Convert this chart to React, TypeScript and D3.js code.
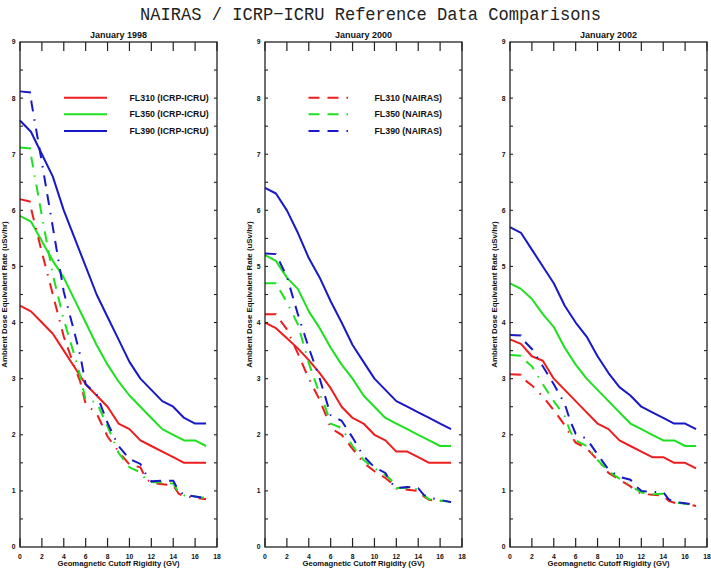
import React from "react";
import * as d3 from "d3";

// ---- data ----
const rigidityGV = [0, 1, 2, 3, 4, 5, 6, 7, 8, 9, 10, 11, 12, 13, 14, 15, 16, 17];
const nairasGV = [0, 1, 1.05, 2, 3, 4, 5, 5.5, 6, 7, 8, 9, 10, 11, 11.5, 12, 13, 14, 14.5, 15, 16, 17];

const panelTitles = ["January 1998", "January 2000", "January 2002"];
const seriesNames = ["FL310", "FL350", "FL390"];

// ICRP-ICRU reference (solid)
const icrp1998FL310 = [4.3, 4.2, 4.0, 3.8, 3.5, 3.2, 2.9, 2.7, 2.5, 2.2, 2.1, 1.9, 1.8, 1.7, 1.6, 1.5, 1.5, 1.5];
const icrp1998FL350 = [5.9, 5.8, 5.45, 5.1, 4.8, 4.4, 4.0, 3.6, 3.25, 2.95, 2.7, 2.5, 2.3, 2.1, 2.0, 1.9, 1.9, 1.8];
const icrp1998FL390 = [7.6, 7.4, 7.0, 6.6, 6.0, 5.5, 5.0, 4.5, 4.1, 3.7, 3.3, 3.0, 2.8, 2.6, 2.5, 2.3, 2.2, 2.2];

const icrp2000FL310 = [4.0, 3.9, 3.72, 3.54, 3.33, 3.1, 2.83, 2.5, 2.3, 2.2, 2.0, 1.9, 1.7, 1.7, 1.6, 1.5, 1.5, 1.5];
const icrp2000FL350 = [5.2, 5.1, 4.8, 4.6, 4.2, 3.9, 3.55, 3.25, 3.0, 2.7, 2.5, 2.3, 2.2, 2.1, 2.0, 1.9, 1.8, 1.8];
const icrp2000FL390 = [6.4, 6.3, 6.0, 5.6, 5.15, 4.8, 4.38, 4.0, 3.6, 3.3, 3.0, 2.8, 2.6, 2.5, 2.4, 2.3, 2.2, 2.1];

const icrp2002FL310 = [3.7, 3.62, 3.4, 3.32, 3.0, 2.8, 2.6, 2.4, 2.2, 2.1, 1.9, 1.8, 1.7, 1.6, 1.6, 1.5, 1.5, 1.4];
const icrp2002FL350 = [4.7, 4.6, 4.42, 4.15, 3.92, 3.55, 3.25, 3.0, 2.8, 2.6, 2.4, 2.2, 2.1, 2.0, 1.9, 1.9, 1.8, 1.8];
const icrp2002FL390 = [5.7, 5.6, 5.3, 5.0, 4.7, 4.3, 4.0, 3.75, 3.4, 3.1, 2.85, 2.7, 2.5, 2.4, 2.3, 2.2, 2.2, 2.1];

// NAIRAS model (dashed)
const nairas1998FL310 = [6.2, 6.15, 6.0, 5.25, 4.5, 3.75, 3.2, 2.95, 2.55, 2.38, 1.97, 1.7, 1.47, 1.42, 1.22, 1.14, 1.12, 1.1, 0.95, 0.9, 0.88, 0.85];
const nairas1998FL350 = [7.12, 7.1, 6.93, 5.9, 4.85, 4.05, 3.4, 3.05, 2.62, 2.58, 2.15, 1.68, 1.42, 1.33, 1.2, 1.16, 1.15, 1.13, 0.98, 0.92, 0.9, 0.87];
const nairas1998FL390 = [8.12, 8.1, 7.92, 6.85, 5.7, 4.55, 3.8, 3.42, 2.9, 2.72, 2.21, 1.8, 1.57, 1.48, 1.3, 1.17, 1.18, 1.18, 1.0, 0.93, 0.9, 0.87];

const nairas2000FL310 = [4.15, 4.15, 4.13, 3.88, 3.45, 3.0, 2.62, 2.38, 2.12, 2.0, 1.75, 1.5, 1.35, 1.23, 1.15, 1.04, 1.02, 1.0, 0.9, 0.84, 0.82, 0.8];
const nairas2000FL350 = [4.7, 4.7, 4.68, 4.36, 3.97, 3.28, 2.72, 2.5, 2.2, 2.12, 1.8, 1.55, 1.4, 1.28, 1.2, 1.05, 1.05, 1.03, 0.92, 0.85, 0.83, 0.8];
const nairas2000FL390 = [5.23, 5.22, 5.2, 4.82, 4.15, 3.55, 3.0, 2.68, 2.35, 2.25, 1.95, 1.62, 1.42, 1.32, 1.15, 1.05, 1.07, 1.05, 0.93, 0.88, 0.84, 0.8];

const nairas2002FL310 = [3.08, 3.07, 3.02, 2.88, 2.68, 2.44, 2.17, 2.0, 1.86, 1.76, 1.55, 1.32, 1.2, 1.08, 1.0, 0.95, 0.93, 0.92, 0.82, 0.79, 0.77, 0.73];
const nairas2002FL350 = [3.42, 3.41, 3.38, 3.22, 2.9, 2.6, 2.33, 2.06, 1.9, 1.8, 1.55, 1.35, 1.22, 1.1, 1.03, 0.97, 0.94, 0.95, 0.85, 0.8, 0.77, 0.74];
const nairas2002FL390 = [3.78, 3.77, 3.72, 3.53, 3.22, 2.9, 2.55, 2.25, 2.02, 1.93, 1.65, 1.38, 1.25, 1.2, 1.08, 1.0, 0.98, 0.98, 0.85, 0.8, 0.78, 0.75];

const xTicks = [0, 2, 4, 6, 8, 10, 12, 14, 16, 18];
const yTickLabels = [0, 1, 2, 3, 4, 5, 6, 7, 8, 9];
const yMinorTicks = [0.5, 1, 1.5, 2, 2.5, 3, 3.5, 4, 4.5, 5, 5.5, 6, 6.5, 7, 7.5, 8, 8.5];

const panels = [
  { title: panelTitles[0], icrp: [icrp1998FL310, icrp1998FL350, icrp1998FL390], nairas: [nairas1998FL310, nairas1998FL350, nairas1998FL390] },
  { title: panelTitles[1], icrp: [icrp2000FL310, icrp2000FL350, icrp2000FL390], nairas: [nairas2000FL310, nairas2000FL350, nairas2000FL390] },
  { title: panelTitles[2], icrp: [icrp2002FL310, icrp2002FL350, icrp2002FL390], nairas: [nairas2002FL310, nairas2002FL350, nairas2002FL390] },
];

// ---- styles / layout ----
const W = 711;
const H = 568;
const COLORS = ["#ee1c1c", "#1ee01e", "#1818c8"];
const DASH = "11,8,11,8,1.5,8";
const FONT = "'Liberation Sans', Arial, Helvetica, sans-serif";
const panelLefts = [20, 265, 510];
const PW = 197;
const TOP = 42;
const BOTTOM = 547;

function Panel({ p, idx }: { p: any; idx: number }) {
  const left = panelLefts[idx];
  const x = d3.scaleLinear().domain([0, 18]).range([left, left + PW]);
  const y = d3.scaleLinear().domain([0, 9]).range([BOTTOM, TOP]);
  const lineI = d3.line<number>().x((_, i) => x(rigidityGV[i])).y((d) => y(d));
  const lineN = d3.line<number>().x((_, i) => x(nairasGV[i])).y((d) => y(d));
  const cx = left + PW / 2;
  const cy = (TOP + BOTTOM) / 2;
  return (
    <g>
      {p.icrp.map((s: number[], i: number) => (
        <path key={"i" + i} d={lineI(s) || ""} fill="none" stroke={COLORS[i]} strokeWidth={2} strokeLinejoin="round" />
      ))}
      {p.nairas.map((s: number[], i: number) => (
        <path key={"n" + i} d={lineN(s) || ""} fill="none" stroke={COLORS[i]} strokeWidth={2} strokeDasharray={DASH} />
      ))}
      {/* frame */}
      <rect x={left} y={TOP} width={PW} height={BOTTOM - TOP} fill="none" stroke="#222" strokeWidth={1.3} />
      {/* x ticks */}
      {xTicks.map((t) => (
        <g key={"xt" + t}>
          <line x1={x(t)} x2={x(t)} y1={BOTTOM} y2={BOTTOM - 9} stroke="#222" strokeWidth={1.2} />
          <line x1={x(t)} x2={x(t)} y1={TOP} y2={TOP + 9} stroke="#222" strokeWidth={1.2} />
          <text x={x(t)} y={558.5} textAnchor="middle" fontFamily={FONT} fontWeight="bold" fontSize={6.8} fill="#111">
            {t}
          </text>
        </g>
      ))}
      {/* y ticks */}
      {yMinorTicks.map((t) => (
        <g key={"ym" + t}>
          <line x1={left} x2={left + 3} y1={y(t)} y2={y(t)} stroke="#222" strokeWidth={1.1} />
          <line x1={left + PW} x2={left + PW - 3} y1={y(t)} y2={y(t)} stroke="#222" strokeWidth={1.1} />
        </g>
      ))}
      {yTickLabels.map((t) => (
        <text key={"yl" + t} x={left - 4.5} y={y(t) + 2.4} textAnchor="end" fontFamily={FONT} fontWeight="bold" fontSize={6.8} fill="#111">
          {t}
        </text>
      ))}
      <text x={cx} y={37.5} textAnchor="middle" fontFamily={FONT} fontWeight="bold" fontSize={9} fill="#111">
        {p.title}
      </text>
      <text x={cx} y={565.5} textAnchor="middle" fontFamily={FONT} fontWeight="bold" fontSize={7.7} fill="#111">
        Geomagnetic Cutoff Rigidity (GV)
      </text>
      <text
        transform={`translate(${left - 13},${cy}) rotate(-90)`}
        textAnchor="middle"
        fontFamily={FONT}
        fontWeight="bold"
        fontSize={7.9}
        fill="#111"
      >
        Ambient Dose Equivalent Rate (uSv/hr)
      </text>
    </g>
  );
}

function Legend({ x0, x1, tx, label, dashed }: { x0: number; x1: number; tx: number; label: string; dashed: boolean }) {
  const ys = [97.7, 114.3, 131];
  return (
    <g>
      {seriesNames.map((n, i) => (
        <g key={n}>
          <line x1={x0} x2={x1} y1={ys[i]} y2={ys[i]} stroke={COLORS[i]} strokeWidth={2} strokeDasharray={dashed ? DASH : undefined} />
          <text x={tx} y={ys[i] + 3.1} fontFamily={FONT} fontWeight="bold" fontSize={8.8} fill="#111">
            {`${n} (${label})`}
          </text>
        </g>
      ))}
    </g>
  );
}

export default function App() {
  return (
    <svg width={W} height={H} viewBox={`0 0 ${W} ${H}`} style={{ position: "absolute", left: 0, top: 0, background: "#fff" }}>
      <rect x={0} y={0} width={W} height={H} fill="#fff" />
      <text
        x={370.5}
        y={20}
        textAnchor="middle"
        fontFamily="'Liberation Mono', 'DejaVu Sans Mono', monospace"
        fontSize={19}
        textLength={461}
        lengthAdjust="spacingAndGlyphs"
        fill="#222"
      >
        NAIRAS / ICRP−ICRU Reference Data Comparisons
      </text>
      {panels.map((p, i) => (
        <Panel key={i} p={p} idx={i} />
      ))}
      <Legend x0={64} x1={107} tx={129.5} label="ICRP-ICRU" dashed={false} />
      <Legend x0={308.5} x1={352.5} tx={374.5} label="NAIRAS" dashed={true} />
    </svg>
  );
}
